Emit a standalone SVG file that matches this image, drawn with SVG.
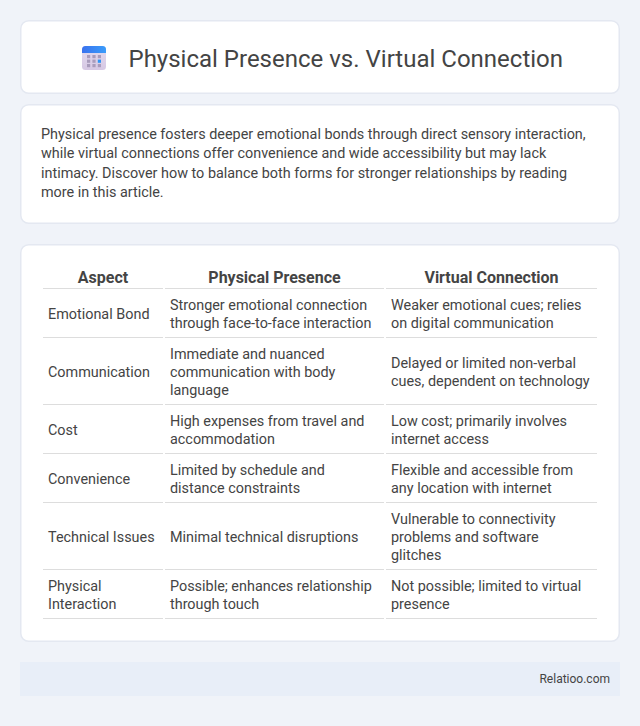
<svg xmlns="http://www.w3.org/2000/svg" width="640" height="726" viewBox="0 0 640 726">
<style>
text{font-family:Roboto,"Liberation Sans",sans-serif;fill:#444}
.c{fill:#fff;stroke:#e4e8f1;stroke-width:1.5}
.t{font-size:14.4px}
.h{font-size:16px;font-weight:700;text-anchor:middle}
.r{fill:#ddd}
.d{fill:#a99cbc}
</style>
<defs><linearGradient id="g" x1="0" y1="0" x2="0" y2="1"><stop offset="0" stop-color="#e4dcef"/><stop offset="1" stop-color="#d6c8e4"/></linearGradient>
<linearGradient id="b" x1="0" y1="0" x2="1" y2="0"><stop offset="0" stop-color="#3a72ee"/><stop offset="1" stop-color="#3a9cfa"/></linearGradient></defs>
<rect width="640" height="726" fill="#f0f3f9"/>
<g id="header">
<rect class="c" x="20.750" y="20.750" width="598.500" height="72.500" rx="8"/>
<g id="icon">
<rect x="82" y="46" width="24" height="24" rx="3.500" fill="url(#g)"/>
<path d="M82 53v-3.500a3.500 3.500 0 0 1 3.500-3.500h17a3.500 3.500 0 0 1 3.500 3.500v3.500z" fill="url(#b)"/>
<g class="d"><rect x="87" y="55" width="3.200" height="3.200"/><rect x="92.400" y="55" width="3.200" height="3.200"/><rect x="97.800" y="55" width="3.200" height="3.200"/>
<rect x="87" y="59.600" width="3.200" height="3.200"/><rect x="92.400" y="59.600" width="3.200" height="3.200"/><rect x="97.800" y="59.600" width="3.200" height="3.200" style="fill:#2f94f5"/>
<rect x="87" y="64" width="3.200" height="3.200"/><rect x="92.400" y="64" width="3.200" height="3.200"/><rect x="97.800" y="64" width="3.200" height="3.200"/></g>
</g>
<text x="128.500" y="67" font-size="24">Physical Presence vs. Virtual Connection</text>
</g>
<g id="intro">
<rect class="c" x="20.750" y="104.750" width="598.500" height="118.500" rx="8"/>
<text x="41" y="139" font-size="14.4">Physical presence fosters deeper emotional bonds through direct sensory interaction,</text>
<text x="41" y="158" font-size="14.4">while virtual connections offer convenience and wide accessibility but may lack</text>
<text x="41" y="178" font-size="14.4">intimacy. Discover how to balance both forms for stronger relationships by reading</text>
<text x="41" y="197" font-size="14.4">more in this article.</text>
</g>
<g id="table">
<rect class="c" x="20.750" y="244.750" width="598.500" height="396.500" rx="8"/>
<text class="h" x="103" y="283">Aspect</text><text class="h" x="274.500" y="283">Physical Presence</text><text class="h" x="491.500" y="283">Virtual Connection</text>
<g class="r">
<rect x="43" y="288" width="120" height="1"/><rect x="165" y="288" width="219" height="1"/><rect x="386" y="288" width="211" height="1"/>
<rect x="43" y="337" width="120" height="1"/><rect x="165" y="337" width="219" height="1"/><rect x="386" y="337" width="211" height="1"/>
<rect x="43" y="404" width="120" height="1"/><rect x="165" y="404" width="219" height="1"/><rect x="386" y="404" width="211" height="1"/>
<rect x="43" y="453" width="120" height="1"/><rect x="165" y="453" width="219" height="1"/><rect x="386" y="453" width="211" height="1"/>
<rect x="43" y="502" width="120" height="1"/><rect x="165" y="502" width="219" height="1"/><rect x="386" y="502" width="211" height="1"/>
<rect x="43" y="569" width="120" height="1"/><rect x="165" y="569" width="219" height="1"/><rect x="386" y="569" width="211" height="1"/>
<rect x="43" y="618" width="120" height="1"/><rect x="165" y="618" width="219" height="1"/><rect x="386" y="618" width="211" height="1"/>
</g>
<g class="t">
<text x="48" y="319">Emotional Bond</text>
<text x="170" y="310">Stronger emotional connection</text><text x="170" y="328">through face-to-face interaction</text>
<text x="391" y="310">Weaker emotional cues; relies</text><text x="391" y="328">on digital communication</text>
<text x="48" y="377">Communication</text>
<text x="170" y="359">Immediate and nuanced</text><text x="170" y="377">communication with body</text><text x="170" y="395">language</text>
<text x="391" y="368">Delayed or limited non-verbal</text><text x="391" y="386">cues, dependent on technology</text>
<text x="48" y="435">Cost</text>
<text x="170" y="426">High expenses from travel and</text><text x="170" y="444">accommodation</text>
<text x="391" y="426">Low cost; primarily involves</text><text x="391" y="444">internet access</text>
<text x="48" y="484">Convenience</text>
<text x="170" y="475">Limited by schedule and</text><text x="170" y="493">distance constraints</text>
<text x="391" y="475">Flexible and accessible from</text><text x="391" y="493">any location with internet</text>
<text x="48" y="542">Technical Issues</text>
<text x="170" y="542">Minimal technical disruptions</text>
<text x="391" y="524">Vulnerable to connectivity</text><text x="391" y="542">problems and software</text><text x="391" y="560">glitches</text>
<text x="48" y="591">Physical</text><text x="48" y="609">Interaction</text>
<text x="170" y="591">Possible; enhances relationship</text><text x="170" y="609">through touch</text>
<text x="391" y="591">Not possible; limited to virtual</text><text x="391" y="609">presence</text>
</g>
</g>
<g id="footer">
<rect x="20" y="662" width="600" height="34" fill="#e8eef8"/>
<text x="610" y="683" font-size="12" text-anchor="end">Relatioo.com</text>
</g>
</svg>
